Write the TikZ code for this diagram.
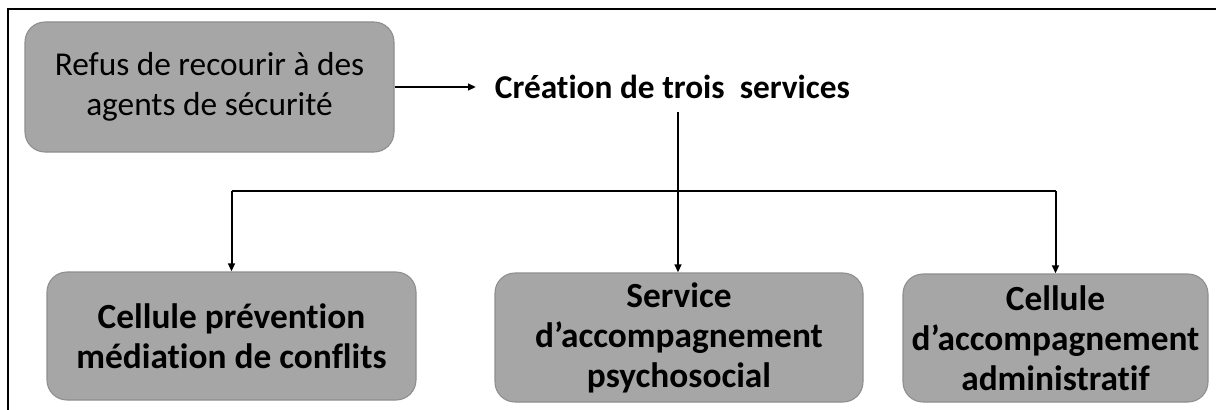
\documentclass[tikz,border=0pt]{standalone}
\usepackage{fontspec}
\setmainfont{Carlito}[Ligatures=NoCommon]
\usetikzlibrary{arrows.meta}
\definecolor{boxfill}{HTML}{A6A6A6}
\definecolor{boxline}{HTML}{8E8E8E}
\begin{document}
\begin{tikzpicture}[x=0.75pt,y=-0.75pt,
  box/.style={draw=boxline, fill=boxfill, rounded corners=15pt, line width=0.8pt,
    align=center, inner sep=0pt, font=\fontsize{25}{30}\selectfont},
  boldbox/.style={box, font=\bfseries\fontsize{26.5}{30}\selectfont},
  title/.style={font=\bfseries\fontsize{25}{30}\selectfont, inner xsep=14pt, inner ysep=0pt},
  wire/.style={line width=1.5pt},
  link/.style={wire, -{Triangle[length=6pt,width=5pt]}}]
  \useasboundingbox (0,0) rectangle (1216,410);

  % outer frame (top and left edges)
  \draw[line width=1.6pt] (8,410) -- (8,9) -- (1216,9);

  % source and heading
  \node[box, minimum width=276.75pt, minimum height=97.5pt] (refus) at (209.5,87)
    {Refus de recourir à des\\agents de sécurité};
  \node[title, anchor=west] (creation) at (476,87) {Création de trois\ \ services};

  % the three services
  \node[boldbox, minimum width=276.75pt, minimum height=96pt] (cellprev) at (231.5,336)
    {Cellule prévention\\médiation de conflits};
  \node[boldbox, minimum width=276pt, minimum height=96.75pt] (servpsy) at (679,337.5)
    {Service\\d’accompagnement\\psychosocial};
  \node[boldbox, minimum width=228.75pt, minimum height=96pt] (celladm) at (1055.5,338)
    {Cellule\\d’accompagnement\\administratif};

  % connectors
  \draw[link] (refus.east) -- (creation.west);
  \coordinate (drop) at (678,112);
  \coordinate (bar) at (0,191);
  \draw[link] (drop) -- (drop |- servpsy.north);
  \draw[wire] (bar -| cellprev.north) -- (bar -| celladm.north);
  \draw[link] (bar -| cellprev.north) -- (cellprev.north);
  \draw[link] (bar -| celladm.north) -- (celladm.north);
\end{tikzpicture}
\end{document}
